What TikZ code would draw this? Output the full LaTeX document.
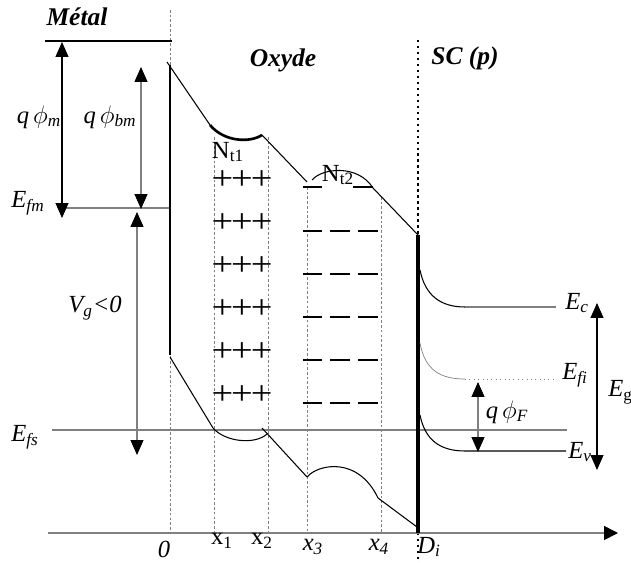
\documentclass[tikz,border=0pt]{standalone}
\usepackage{fontspec}
\setmainfont{Liberation Serif}
\usetikzlibrary{arrows.meta}

\begin{document}
\begin{tikzpicture}[x=0.02cm,y=-0.02cm,
		lab/.style={inner sep=0pt, font=\fontsize{14}{14}\selectfont},
		titre/.style={inner sep=0pt, font=\fontsize{14.5}{14.5}\selectfont\bfseries\itshape},
		pointe/.tip={Triangle[length=0.3cm,width=0.26cm,color=black]},
		fleche/.style={pointe-pointe, line width=0.6pt},
		niveau/.style={draw=gray, line width=0.9pt},
		repere/.style={draw=gray, dash pattern=on 1.5pt off 1.2pt, line width=0.35pt},
		bande/.style={draw=black, line width=0.6pt}]
	\useasboundingbox (0,0) rectangle (631,563);
	% reperes verticaux
	\draw[repere] (170,10) -- (170,533);
	\draw[repere] (214,137) -- (214,533);
	\draw[repere] (268,137) -- (268,533);
	\draw[repere] (307,187) -- (307,533);
	\draw[repere] (381,197) -- (381,533);
	\draw[dotted, line width=1.4pt] (418,40) -- (418,235);
	\draw[dotted, line width=1.4pt] (418,533) -- (418,563);
	% niveaux horizontaux
	\draw[line width=0.6pt] (45,41) -- (172,41);
	\draw[niveau] (62,208) -- (170,208);
	\draw[niveau] (52,430) -- (567,430);
	\draw[gray, line width=0.9pt, -{Triangle[length=0.28cm,width=0.28cm,color=black]}] (48,533) -- (618,533);
	% interfaces
	\draw[line width=1.4pt] (170,65) -- (170,355);
	\draw[line width=2.4pt] (418,235) -- (418,533);
	% bande de conduction de l'oxyde
	\draw[bande] (167,62) -- (210,125);
	\draw[line width=1.5pt] (210,125) .. controls (224,142) and (250,143) .. (262,135);
	\draw[bande] (262,135) -- (307,182);
	\draw[bande] (312,180) .. controls (322,168) and (358,164) .. (373,188);
	\draw[bande] (373,188) -- (418,235);
	% bande de valence de l'oxyde
	\draw[bande] (170,357) -- (213,428);
	\draw[bande] (213,428) .. controls (225,442) and (255,445) .. (267,434);
	\draw[bande] (262,428) -- (307,477);
	\draw[bande] (307,477) .. controls (318,464) and (358,456) .. (378,498);
	\draw[bande] (378,498) -- (417,527);
	% charges
	\foreach \y in {180,223,266,309,352,395}
		\node[inner sep=0pt, font=\fontsize{19}{19}\selectfont] (p\y) at (242,\y) {\scalebox{1.15}[1]{+\kern-1pt+\kern-1pt+}};
	\foreach \y in {231,274,317,360,403}
		\foreach \a/\b in {303/322,330/350,358/378}
			\draw[line width=0.85pt] (\a,\y) -- (\b,\y);
	\draw[line width=0.85pt] (303,187) -- (322,187);
	\draw[line width=0.85pt] (353,187) -- (373,187);
	% semiconducteur
	\draw[bande] (420,270) .. controls (425,295) and (440,307) .. (465,307);
	\draw[niveau] (465,307) -- (556,307);
	\draw[gray, line width=0.4pt] (420,343) .. controls (425,370) and (440,379) .. (465,379);
	\draw[gray, dotted, line width=0.5pt] (465,379) -- (556,379);
	\draw[bande] (420,415) .. controls (425,440) and (440,451) .. (465,451) -- (566,451);
	% fleches
	\coordinate (mH) at (62,42);
	\coordinate (mB) at (62,218);
	\coordinate (bmH) at (141,67);
	\coordinate (bmB) at (141,209);
	\coordinate (vgH) at (137,212);
	\coordinate (vgB) at (137,455);
	\coordinate (fH) at (478,382);
	\coordinate (fB) at (478,452);
	\coordinate (gH) at (597,303);
	\coordinate (gB) at (597,470);
	\draw[fleche] (mH) -- (mB);
	\draw[fleche, gray] (bmH) -- (bmB);
	\draw[fleche, gray] (vgH) -- (vgB);
	\draw[fleche, gray] (fH) -- (fB);
	\draw[fleche] (gH) -- (gB);
	% textes
	\node[titre] (metal) at (77,17) {Métal};
	\node[titre] (oxyde) at (283,60) {Oxyde};
	\node[titre] (sc) at (465,58) {SC (p)};
	\node[lab] (qphim) at (39,117) {\itshape q\,$\phi$\textsubscript{m}};
	\node[lab] (qphibm) at (110,117) {\itshape q\,$\phi$\textsubscript{bm}};
	\node[lab] (efm) at (28,203) {\itshape E\textsubscript{fm}};
	\node[lab] (vg) at (95,308) {\itshape V\textsubscript{g}<0};
	\node[lab] (efs) at (25,437) {\itshape E\textsubscript{fs}};
	\node[lab] (nt1) at (228,152) {N\textsubscript{t1}};
	\node[lab] (nt2) at (338,175) {N\textsubscript{t2}};
	\node[lab, anchor=west] (ec) at (565,303) {\itshape E\textsubscript{c}};
	\node[lab, anchor=west] (efi) at (562,375) {\itshape E\textsubscript{fi}};
	\node[lab, anchor=west] (eg) at (608,392) {\itshape E\textsubscript{\upshape g}};
	\node[lab, anchor=west] (ev) at (568,452) {\itshape E\textsubscript{v}};
	\node[lab] (qphif) at (507,412) {\itshape q\,$\phi$\textsubscript{F}};
	\node[lab] (zero) at (164,549) {\itshape 0};
	\node[lab] (x1) at (222,541) {x\textsubscript{1}};
	\node[lab] (x2) at (262,541) {x\textsubscript{2}};
	\node[lab] (x3) at (313,547) {\itshape x\textsubscript{3}};
	\node[lab] (x4) at (379,547) {\itshape x\textsubscript{4}};
	\node[lab] (di) at (429,547) {\itshape D\textsubscript{i}};
\end{tikzpicture}
\end{document}
